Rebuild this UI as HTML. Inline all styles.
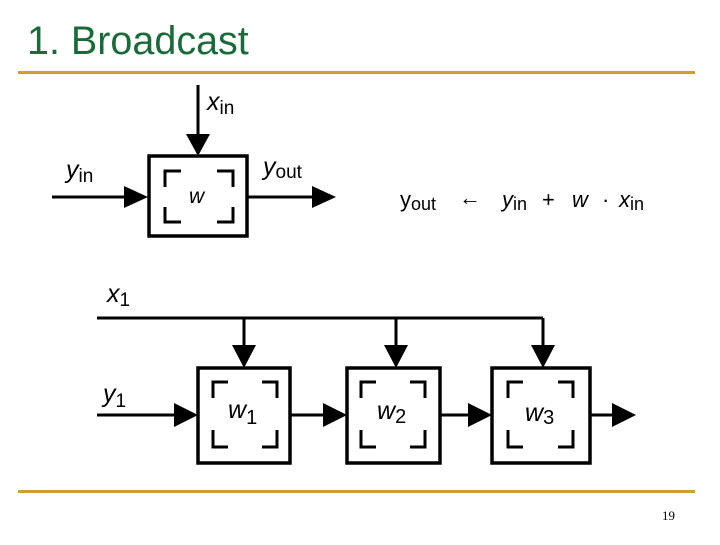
<!DOCTYPE html>
<html><head><style>
body{margin:0;width:720px;height:540px;background:#fff;overflow:hidden;font-family:"Liberation Sans",sans-serif}
</style></head><body>
<svg width="720" height="540" xmlns="http://www.w3.org/2000/svg" font-family="Liberation Sans, sans-serif">
<text x="27" y="54" font-size="39.5" fill="#1a6b3a">1. Broadcast</text>
<rect x="18" y="71" width="677" height="3" fill="#c9a227"/>
<rect x="18" y="490" width="677" height="3" fill="#c9a227"/>
<text x="662" y="520" font-size="13" font-family="Liberation Serif, serif">19</text>
<g stroke="#000" fill="none" stroke-width="3">
<line x1="198" y1="85" x2="198" y2="140"/>
<line x1="52" y1="197" x2="130" y2="197"/>
<line x1="248" y1="197" x2="318" y2="197"/>
<rect x="149" y="156" width="98" height="80" stroke-width="3.5"/>
<path d="M165 187V171H181M217 171H233V187M165 207V222H181M217 222H233V207" stroke-width="3"/>
<line x1="97" y1="318" x2="543" y2="318"/>
<line x1="244" y1="318" x2="244" y2="350"/>
<line x1="396" y1="318" x2="396" y2="350"/>
<line x1="543" y1="318" x2="543" y2="350"/>
<line x1="97" y1="415" x2="180" y2="415"/>
<line x1="290" y1="415" x2="330" y2="415"/>
<line x1="440" y1="415" x2="475" y2="415"/>
<line x1="590" y1="415" x2="615" y2="415"/>
<rect x="198" y="368" width="92" height="95" stroke-width="3.5"/>
<rect x="347" y="368" width="93" height="95" stroke-width="3.5"/>
<rect x="492" y="368" width="98" height="95" stroke-width="3.5"/>
<path d="M213 398V382H228M262 382H277V398M213 430V447H228M262 447H277V430"/>
<path d="M361 398V382H376M410 382H425V398M361 430V447H376M410 447H425V430"/>
<path d="M508 398V382H523M558 382H573V398M508 430V447H523M558 447H573V430"/>
</g>
<g fill="#000">
<polygon points="186,134 210,134 198,156"/>
<polygon points="124,186 124,208 148,197"/>
<polygon points="312,186 312,208 336,197"/>
<polygon points="232,345 256,345 244,368"/>
<polygon points="384,345 408,345 396,368"/>
<polygon points="531,345 555,345 543,368"/>
<polygon points="174,403 174,427 198,415"/>
<polygon points="323,403 323,427 347,415"/>
<polygon points="468,403 468,427 492,415"/>
<polygon points="612,403 612,427 636,415"/>
</g>
<g font-size="25" fill="#000" font-style="italic">
<text x="207" y="110">x<tspan font-size="19" dy="4" font-style="normal">in</tspan></text>
<text x="66" y="178">y<tspan font-size="19" dy="4" font-style="normal">in</tspan></text>
<text x="263" y="175">y<tspan font-size="19" dy="3" font-style="normal">out</tspan></text>
<text x="189" y="203" font-size="21">w</text>
<text x="107" y="302">x<tspan font-size="19" dy="4" font-style="normal">1</tspan></text>
<text x="103" y="402">y<tspan font-size="19" dy="5" font-style="normal">1</tspan></text>
<text x="228" y="418">w<tspan font-size="20" dy="6" font-style="normal">1</tspan></text>
<text x="377" y="419">w<tspan font-size="20" dy="4" font-style="normal">2</tspan></text>
<text x="525" y="421">w<tspan font-size="20" dy="3" font-style="normal">3</tspan></text>
</g>
<g font-size="22" fill="#000">
<text x="400" y="207">y<tspan font-size="18" dy="3">out</tspan></text>
<text x="459" y="205">←</text>
<text x="502" y="207" font-style="italic">y<tspan font-size="18" dy="3" font-style="normal">in</tspan></text>
<text x="542" y="207">+</text>
<text x="572" y="207" font-style="italic">w</text>
<text x="602" y="207">·</text>
<text x="619" y="207" font-style="italic">x<tspan font-size="18" dy="3" font-style="normal">in</tspan></text>
</g>
</svg>
</body></html>
